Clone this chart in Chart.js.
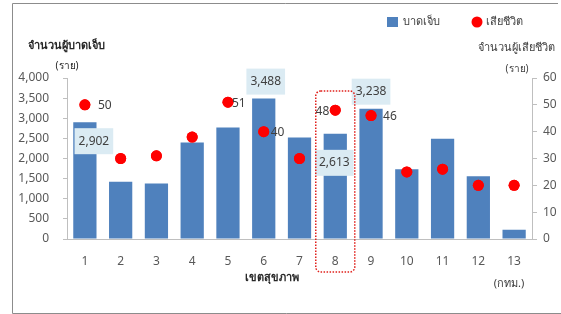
<!DOCTYPE html>
<html>
<head>
<meta charset="utf-8">
<script src="https://cdn.jsdelivr.net/npm/chart.js@4.4.1/dist/chart.umd.min.js"></script>
<style>
  html, body { margin: 0; padding: 0; background: #fff; }
  #wrap { position: relative; width: 561px; height: 314px; }
</style>
</head>
<body>
<div id="wrap"><canvas id="chart" width="561" height="314"></canvas></div>
<script>
// data
const regions = ['1', '2', '3', '4', '5', '6', '7', '8', '9', '10', '11', '12', '13'];
const injured = [2902, 1425, 1380, 2400, 2770, 3488, 2520, 2613, 3238, 1730, 2490, 1560, 230];
const deaths = [50, 30, 31, 38, 51, 40, 30, 48, 46, 25, 26, 20, 20];

// which values get a label in the picture
const injuredLabelIdx = [0, 5, 7, 8];
const deathLabelIdx = [0, 4, 5, 7, 8];

const injuredTitle = 'จำนวนผู้บาดเจ็บ';
const deathTitle = 'จำนวนผู้เสียชีวิต';
const unitText = '(ราย)';
const xTitle = 'เขตสุขภาพ';
const bkkNote = '(กทม.)';
const legendInjured = 'บาดเจ็บ';
const legendDeath = 'เสียชีวิต';

const FONT = "Tahoma, 'Noto Sans', 'DejaVu Sans', sans-serif";
const BLUE = '#4f81bd';
const RED = '#ff0000';

// label placement (box centre offset from bar top / text offset from point)
const barLabelOffset = { 0: [9, 19], 5: [2, -17], 7: [-1, 29], 8: [0, -17] };
const pointLabelOffset = { 0: [13, 'left'], 4: [4, 'left'], 5: [7, 'left'], 7: [-6, 'right'], 8: [12, 'left'] };

const fmt = v => v.toLocaleString('en-US');

const extras = {
  id: 'extras',
  afterDatasetsDraw(chart) {
    const { ctx, chartArea } = chart;
    const bars = chart.getDatasetMeta(0).data;
    const pts = chart.getDatasetMeta(1).data;
    ctx.save();

    // bar value boxes
    ctx.font = '12px ' + FONT;
    ctx.textAlign = 'center';
    ctx.textBaseline = 'middle';
    injuredLabelIdx.forEach(i => {
      const b = bars[i];
      const off = barLabelOffset[i];
      const cx = b.x + off[0], cy = b.y + off[1];
      const txt = fmt(injured[i]);
      const w = ctx.measureText(txt).width + 8;
      ctx.fillStyle = '#dbebf3';
      ctx.fillRect(cx - w / 2, cy - 13, w, 26);
      ctx.fillStyle = '#404040';
      ctx.fillText(txt, cx, cy);
    });

    // redraw points above boxes
    pts.forEach(p => p.draw(ctx, chartArea));

    // point value labels
    deathLabelIdx.forEach(i => {
      const p = pts[i];
      const off = pointLabelOffset[i];
      ctx.textAlign = off[1];
      ctx.fillStyle = '#404040';
      ctx.fillText(String(deaths[i]), p.x + off[0], p.y + 1);
    });

    // dotted highlight around region 8
    const xs = chart.scales.x;
    const cx8 = xs.getPixelForValue(7);
    const half = 19.5;
    const top = chartArea.top + 13, bottom = chartArea.bottom + 33;
    ctx.strokeStyle = '#e0201b';
    ctx.lineWidth = 1.5;
    ctx.setLineDash([1.5, 1.5]);
    ctx.beginPath();
    ctx.roundRect(cx8 - half, top, half * 2, bottom - top, 5);
    ctx.stroke();
    ctx.setLineDash([]);

    // titles
    ctx.fillStyle = '#262626';
    ctx.textAlign = 'center';
    ctx.font = 'bold 11px ' + FONT;
    ctx.fillText(injuredTitle, 66, 46);
    ctx.fillText(xTitle, 272, 278);
    ctx.font = '10px ' + FONT;
    ctx.fillText(unitText, 67, 66);
    ctx.fillStyle = '#404040';
    ctx.font = '11px ' + FONT;
    ctx.fillText(deathTitle, 516, 48);
    ctx.font = '10px ' + FONT;
    ctx.fillText(unitText, 517, 69);
    ctx.font = '11px ' + FONT;
    ctx.fillText(bkkNote, 509, 284);

    // legend
    ctx.fillStyle = BLUE;
    ctx.fillRect(387, 17, 11, 10);
    ctx.fillStyle = RED;
    ctx.beginPath();
    ctx.arc(477, 22, 5.5, 0, Math.PI * 2);
    ctx.fill();
    ctx.fillStyle = '#404040';
    ctx.textAlign = 'left';
    ctx.font = '11px ' + FONT;
    ctx.fillText(legendInjured, 403, 22);
    ctx.fillText(legendDeath, 486, 22);

    // outer frame
    ctx.strokeStyle = '#8c8c8c';
    ctx.lineWidth = 1;
    ctx.beginPath();
    ctx.moveTo(558, 3.5);
    ctx.lineTo(12.5, 3.5);
    ctx.lineTo(12.5, 313.5);
    ctx.lineTo(561, 313.5);
    ctx.stroke();

    ctx.restore();
  }
};

new Chart(document.getElementById('chart'), {
  type: 'bar',
  data: {
    labels: regions,
    datasets: [{
      label: legendInjured,
      data: injured,
      backgroundColor: BLUE,
      barPercentage: 0.65,
      categoryPercentage: 1,
      yAxisID: 'y',
      order: 1
    }, {
      type: 'line',
      label: legendDeath,
      data: deaths,
      showLine: false,
      pointRadius: 5.5,
      pointBackgroundColor: RED,
      pointBorderWidth: 0,
      yAxisID: 'y1',
      order: 0
    }]
  },
  options: {
    responsive: false,
    animation: false,
    layout: { padding: { top: 78, left: 0, right: 0, bottom: 0 } },
    plugins: { legend: { display: false }, tooltip: { enabled: false } },
    scales: {
      x: {
        grid: { display: false, drawTicks: false },
        border: { color: '#bfbfbf' },
        ticks: { color: '#595959', font: { family: FONT, size: 12 }, padding: 15 },
        afterFit(s) { s.height = 75; }
      },
      y: {
        position: 'left',
        min: 0, max: 4000,
        ticks: { stepSize: 500, color: '#595959', font: { family: FONT, size: 12 }, padding: 14 },
        grid: { drawOnChartArea: false, tickLength: 4, color: '#bfbfbf' },
        border: { color: '#bfbfbf' },
        afterFit(s) { s.width = 67; }
      },
      y1: {
        position: 'right',
        min: 0, max: 60,
        ticks: { stepSize: 10, color: '#595959', font: { family: FONT, size: 12 }, padding: 6 },
        grid: { drawOnChartArea: false, tickLength: 5, color: '#bfbfbf' },
        border: { color: '#bfbfbf' },
        afterFit(s) { s.width = 29; }
      }
    }
  },
  plugins: [extras]
});
</script>
</body>
</html>
